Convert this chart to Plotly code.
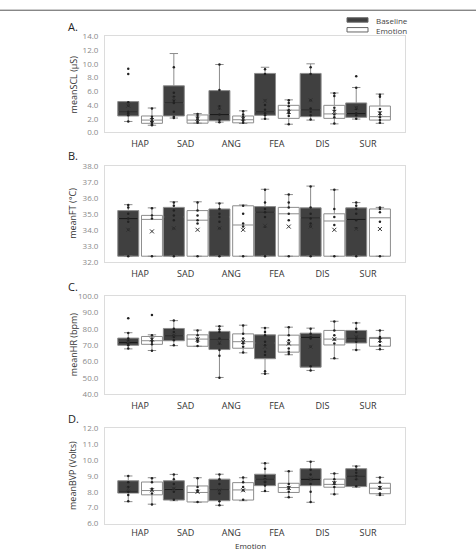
import plotly.graph_objects as go

W, H = 476, 554
CATS = ["HAP", "SAD", "ANG", "FEA", "DIS", "SUR"]
SERIES = ["Baseline", "Emotion"]

# ---- A. meanSCL (µS)
SCL_BASE_Q1 = [2.4, 2.4, 1.7, 2.5, 2.3, 2.2]
SCL_BASE_MED = [3.0, 4.3, 2.6, 3.0, 3.3, 2.75]
SCL_BASE_Q3 = [4.5, 6.8, 6.1, 8.6, 8.6, 4.3]
SCL_BASE_LO = [1.6, 2.1, 1.5, 1.95, 1.8, 1.95]
SCL_BASE_HI = [4.5, 11.5, 9.9, 9.5, 10.0, 6.55]
SCL_BASE_MEAN = [3.9, 5.0, 3.6, 4.6, 4.7, 3.6]
SCL_BASE_PTS = [[9.3, 8.5, 4.4, 3.9, 3.0, 2.8, 2.5, 1.6],
                [9.5, 5.8, 5.2, 4.6, 4.3, 3.0, 2.3, 2.1],
                [9.9, 6.2, 3.8, 3.5, 2.6, 1.8, 1.5],
                [9.2, 8.5, 4.6, 4.0, 3.3, 2.8, 2.5, 2.0],
                [9.5, 8.5, 4.7, 3.5, 3.0, 2.5, 1.9],
                [8.2, 6.5, 3.6, 3.4, 2.8, 2.5, 2.0]]
SCL_EMO_Q1 = [1.33, 1.35, 1.4, 2.05, 2.05, 1.8]
SCL_EMO_MED = [1.8, 1.8, 1.85, 3.25, 2.7, 2.3]
SCL_EMO_Q3 = [2.4, 2.55, 2.4, 3.95, 3.95, 3.85]
SCL_EMO_LO = [1.05, 1.35, 1.3, 1.2, 1.25, 1.33]
SCL_EMO_HI = [3.56, 2.75, 3.15, 4.75, 5.75, 5.6]
SCL_EMO_MEAN = [1.8, 2.0, 2.0, 3.0, 3.0, 2.8]
SCL_EMO_PTS = [[3.5, 2.3, 2.0, 1.7, 1.5, 1.2, 1.05],
               [2.7, 2.4, 2.1, 1.9, 1.6, 1.4],
               [3.1, 2.6, 2.3, 2.0, 1.7, 1.4],
               [4.7, 4.3, 3.8, 3.3, 3.0, 2.8, 2.4, 1.2],
               [5.7, 5.3, 3.6, 3.2, 2.6, 2.2, 1.3],
               [5.5, 5.2, 3.4, 2.9, 2.6, 2.2, 1.8, 1.4]]

# ---- B. meanFT (°C)
FT_BASE_Q1 = [32.35, 32.35, 32.35, 32.35, 32.35, 32.35]
FT_BASE_MED = [34.7, 34.8, 34.8, 35.1, 34.75, 34.65]
FT_BASE_Q3 = [35.2, 35.4, 35.3, 35.45, 35.37, 35.37]
FT_BASE_LO = [32.35, 32.35, 32.35, 32.35, 32.35, 32.35]
FT_BASE_HI = [35.57, 35.75, 35.67, 36.53, 36.73, 35.7]
FT_BASE_MEAN = [34.0, 34.1, 34.1, 34.25, 34.2, 34.05]
FT_BASE_PTS = [[35.55, 35.4, 35.0, 34.7, 34.5, 34.0, 32.35],
               [35.7, 35.5, 35.2, 34.9, 34.6, 34.1, 32.35],
               [35.65, 35.3, 35.0, 34.8, 34.5, 34.1, 32.35],
               [36.5, 35.7, 35.3, 35.1, 34.8, 34.2, 32.35],
               [36.7, 35.4, 35.0, 34.7, 34.4, 34.2, 32.35],
               [35.7, 35.5, 35.3, 35.0, 34.6, 34.1, 32.35]]
FT_EMO_Q1 = [32.35, 32.35, 32.35, 32.35, 32.35, 32.35]
FT_EMO_MED = [34.65, 34.6, 34.3, 35.0, 34.55, 34.75]
FT_EMO_Q3 = [34.9, 35.2, 35.5, 35.4, 35.0, 35.3]
FT_EMO_LO = [32.35, 32.35, 32.35, 32.35, 32.35, 32.35]
FT_EMO_HI = [35.37, 35.75, 35.55, 36.2, 36.5, 35.4]
FT_EMO_MEAN = [33.9, 34.0, 34.0, 34.2, 34.0, 34.05]
FT_EMO_PTS = [[35.35, 34.9, 34.7, 32.35],
              [35.7, 35.2, 34.9, 34.6, 34.4, 32.35],
              [35.5, 35.0, 34.4, 34.2, 32.35],
              [36.2, 35.7, 35.4, 35.0, 34.6, 32.35],
              [36.5, 35.3, 34.8, 34.3, 32.35],
              [35.4, 35.3, 35.1, 34.5, 32.35]]

# ---- C. meanHR (bpm)
HR_BASE_Q1 = [69.9, 72.7, 67.3, 61.7, 56.5, 71.3]
HR_BASE_MED = [71.7, 75.7, 73.7, 71.3, 74.7, 74.3]
HR_BASE_Q3 = [74.3, 80.2, 78.4, 76.3, 77.3, 79.0]
HR_BASE_LO = [67.7, 69.7, 50.2, 52.5, 54.5, 67.1]
HR_BASE_HI = [77.6, 85.0, 81.6, 80.6, 80.4, 83.6]
HR_BASE_MEAN = [72.0, 76.0, 71.5, 69.0, 69.0, 75.0]
HR_BASE_PTS = [[86.5, 77.5, 74, 72.5, 71, 70, 68],
               [85, 80, 78, 76, 75, 73, 70],
               [81.5, 79.5, 78, 74, 71, 67, 63.5, 50],
               [80.5, 78, 76, 72, 70, 66, 64, 54, 52.5],
               [80, 77, 75, 74, 69, 57, 54.5],
               [83.5, 80, 78, 75, 74, 72, 67]]
HR_EMO_Q1 = [70.5, 69.3, 68.1, 65.7, 70.1, 69.3]
HR_EMO_MED = [72.7, 73.7, 72.1, 70.1, 73.7, 74.1]
HR_EMO_Q3 = [75.3, 76.3, 76.9, 76.1, 79.0, 74.7]
HR_EMO_LO = [66.7, 69.3, 65.3, 64.1, 61.7, 67.3]
HR_EMO_HI = [76.3, 79.2, 82.2, 81.0, 84.6, 79.0]
HR_EMO_MEAN = [73.5, 73.5, 72.0, 71.0, 73.7, 73.0]
HR_EMO_PTS = [[88.5, 76, 74, 73, 72, 70.5, 66.5],
              [79, 76, 74, 73, 72, 69.5],
              [82, 77, 74, 72, 71, 69, 65.5],
              [81, 76, 73, 71, 68, 66, 64.5],
              [84.5, 79, 76, 73.5, 71, 62],
              [79, 75, 74, 72, 70, 67.5]]

# ---- D. meanBVP (Volts)
BVP_BASE_Q1 = [7.92, 7.48, 7.44, 8.39, 8.39, 8.33]
BVP_BASE_MED = [8.0, 8.16, 8.12, 8.8, 8.78, 8.99]
BVP_BASE_Q3 = [8.7, 8.7, 8.8, 9.11, 9.46, 9.46]
BVP_BASE_LO = [7.38, 7.44, 7.15, 8.02, 7.34, 8.29]
BVP_BASE_HI = [9.0, 9.1, 9.11, 9.81, 9.92, 9.63]
BVP_BASE_MEAN = [8.2, 8.2, 8.1, 8.75, 8.8, 8.9]
BVP_BASE_PTS = [[9.0, 8.6, 8.3, 8.0, 7.8, 7.4],
                [9.1, 8.8, 8.5, 8.2, 8.0, 7.5],
                [9.1, 8.8, 8.5, 8.1, 7.9, 7.4, 7.15],
                [9.8, 9.45, 9.0, 8.8, 8.6, 8.4, 8.05],
                [9.9, 9.4, 9.1, 8.8, 8.5, 8.0, 7.35],
                [9.6, 9.4, 9.2, 9.0, 8.8, 8.35]]
BVP_EMO_Q1 = [7.81, 7.36, 7.48, 7.96, 8.29, 7.88]
BVP_EMO_MED = [8.08, 7.96, 8.12, 8.27, 8.47, 8.23]
BVP_EMO_Q3 = [8.62, 8.37, 8.58, 8.54, 8.8, 8.54]
BVP_EMO_LO = [7.22, 7.34, 7.44, 7.65, 7.86, 7.79]
BVP_EMO_HI = [8.89, 8.89, 8.89, 9.3, 9.15, 8.91]
BVP_EMO_MEAN = [8.1, 8.0, 8.1, 8.25, 8.55, 8.25]
BVP_EMO_PTS = [[8.85, 8.6, 8.2, 8.1, 7.9, 7.2],
               [8.85, 8.3, 8.1, 8.0, 7.35],
               [8.9, 8.6, 8.3, 8.1, 7.5],
               [9.3, 8.5, 8.3, 8.2, 8.0, 7.65],
               [9.15, 8.8, 8.6, 8.5, 8.3, 7.85],
               [8.9, 8.6, 8.3, 8.2, 7.9, 7.8]]

PANELS = [
    dict(label="A.", title="meanSCL (µS)", rng=[0, 14], dtick=2, top=31, bot=129,
         base=(SCL_BASE_Q1, SCL_BASE_MED, SCL_BASE_Q3, SCL_BASE_LO, SCL_BASE_HI, SCL_BASE_MEAN, SCL_BASE_PTS),
         emo=(SCL_EMO_Q1, SCL_EMO_MED, SCL_EMO_Q3, SCL_EMO_LO, SCL_EMO_HI, SCL_EMO_MEAN, SCL_EMO_PTS)),
    dict(label="B.", title="meanFT (°C)", rng=[32, 38], dtick=1, top=163, bot=261,
         base=(FT_BASE_Q1, FT_BASE_MED, FT_BASE_Q3, FT_BASE_LO, FT_BASE_HI, FT_BASE_MEAN, FT_BASE_PTS),
         emo=(FT_EMO_Q1, FT_EMO_MED, FT_EMO_Q3, FT_EMO_LO, FT_EMO_HI, FT_EMO_MEAN, FT_EMO_PTS)),
    dict(label="C.", title="meanHR (bpm)", rng=[40, 100], dtick=10, top=296, bot=396,
         base=(HR_BASE_Q1, HR_BASE_MED, HR_BASE_Q3, HR_BASE_LO, HR_BASE_HI, HR_BASE_MEAN, HR_BASE_PTS),
         emo=(HR_EMO_Q1, HR_EMO_MED, HR_EMO_Q3, HR_EMO_LO, HR_EMO_HI, HR_EMO_MEAN, HR_EMO_PTS)),
    dict(label="D.", title="meanBVP (Volts)", rng=[6, 12], dtick=1, top=431, bot=528,
         base=(BVP_BASE_Q1, BVP_BASE_MED, BVP_BASE_Q3, BVP_BASE_LO, BVP_BASE_HI, BVP_BASE_MEAN, BVP_BASE_PTS),
         emo=(BVP_EMO_Q1, BVP_EMO_MED, BVP_EMO_Q3, BVP_EMO_LO, BVP_EMO_HI, BVP_EMO_MEAN, BVP_EMO_PTS)),
]

FONT = "Open Sans, DejaVu Sans, sans-serif"
FILL = {"Baseline": "#404040", "Emotion": "#ffffff"}
EDGE = "#8c8c8c"
OFFSET = {"Baseline": -0.26, "Emotion": 0.26}
BOXW = 0.46
X0, X1 = 105, 405

fig = go.Figure()
layout = dict(width=W, height=H, margin=dict(l=0, r=0, t=0, b=0),
              paper_bgcolor="white", plot_bgcolor="white", showlegend=False,
              font=dict(family=FONT, color="#333"))
annotations, shapes = [], []

for k, p in enumerate(PANELS):
    n = "" if k == 0 else str(k + 1)
    xa, ya = "x" + n, "y" + n
    for name, stats in (("Baseline", p["base"]), ("Emotion", p["emo"])):
        q1, med, q3, lo, hi, mean, pts = stats
        xs = [i + OFFSET[name] for i in range(len(CATS))]
        fig.add_trace(go.Box(x=xs, q1=q1, median=med, q3=q3, lowerfence=lo, upperfence=hi,
                             width=BOXW, orientation="v", boxpoints=False, whiskerwidth=0.4,
                             fillcolor=FILL[name], line=dict(color=EDGE, width=1),
                             name=name, xaxis=xa, yaxis=ya, hoverinfo="skip"))
        if name == "Baseline":
            # darker median line inside the dark boxes
            mx, my = [], []
            for x, m in zip(xs, med):
                mx += [x - BOXW / 2 + 0.02, x + BOXW / 2 - 0.02, None]
                my += [m, m, None]
            fig.add_trace(go.Scatter(x=mx, y=my, mode="lines", xaxis=xa, yaxis=ya,
                                     line=dict(color="#1c1c1c", width=1.2), hoverinfo="skip"))
        px_, py_ = [], []
        for i, vals in enumerate(pts):
            px_ += [i + OFFSET[name]] * len(vals)
            py_ += vals
        fig.add_trace(go.Scatter(x=px_, y=py_, mode="markers", xaxis=xa, yaxis=ya,
                                 marker=dict(size=2.5, color="#222"), hoverinfo="skip"))
        fig.add_trace(go.Scatter(x=xs, y=mean, mode="markers", xaxis=xa, yaxis=ya,
                                 marker=dict(symbol="x-thin", size=4, line=dict(width=1, color="#333"), color="#333"),
                                 hoverinfo="skip"))
    last = k == len(PANELS) - 1
    layout["xaxis" + n] = dict(domain=[X0 / W, X1 / W], range=[-0.77, 5.81], anchor=ya,
                               tickvals=list(range(len(CATS))), ticktext=CATS, ticks="",
                               showgrid=False, zeroline=False, showline=True, mirror=True,
                               linecolor="#dcdcdc", linewidth=1, ticklabelstandoff=1 if last else 3,
                               tickfont=dict(size=9, color="#333"))
    layout["yaxis" + n] = dict(domain=[1 - p["bot"] / H, 1 - p["top"] / H], range=p["rng"],
                               dtick=p["dtick"], tickformat=".1f", anchor=xa, ticks="",
                               showgrid=False, zeroline=False, showline=True, mirror=True,
                               linecolor="#dcdcdc", linewidth=1, ticklabelstandoff=4,
                               tickfont=dict(size=8, color="#8a8a8a"))
    annotations.append(dict(text=p["title"], x=73 / W, y=1 - (p["top"] + p["bot"]) / 2 / H,
                            xref="paper", yref="paper", textangle=-90, showarrow=False,
                            xanchor="center", yanchor="middle", font=dict(size=9, color="#333")))
    annotations.append(dict(text=p["label"], x=66 / W, y=1 - (p["top"] - 10) / H,
                            xref="paper", yref="paper", showarrow=False,
                            xanchor="left", yanchor="middle", font=dict(size=11, color="#222")))

# x-axis title at the bottom edge
annotations.append(dict(text="Emotion", x=250 / W, y=1 - 543 / H, xref="paper", yref="paper",
                        showarrow=False, xanchor="center", yanchor="top", font=dict(size=8, color="#333")))

# legend drawn manually
for j, name in enumerate(SERIES):
    yt = 12 + j * 10
    shapes.append(dict(type="rect", xref="paper", yref="paper", x0=347 / W, x1=368 / W,
                       y0=1 - (yt + 4.5) / H, y1=1 - yt / H, fillcolor=FILL[name],
                       line=dict(color="#666", width=1)))
    annotations.append(dict(text=name, x=374 / W, y=1 - (yt + 2.5) / H, xref="paper", yref="paper",
                            showarrow=False, xanchor="left", yanchor="middle",
                            font=dict(size=8, color="#444")))

# top frame line
shapes.append(dict(type="line", xref="paper", yref="paper", x0=0, x1=1, y0=1 - 4.3 / H, y1=1 - 4.3 / H,
                   line=dict(color="#555", width=1)))

layout["annotations"] = annotations
layout["shapes"] = shapes
fig.update_layout(**layout)
fig.write_html("out.html")
